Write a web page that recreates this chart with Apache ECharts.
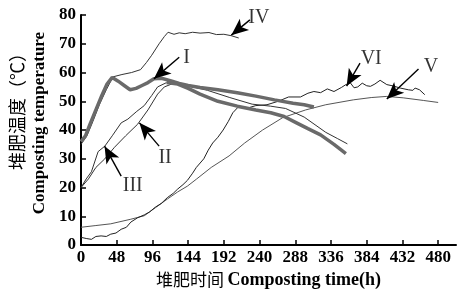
<!DOCTYPE html>
<html>
<head>
<meta charset="utf-8">
<script src="https://cdn.jsdelivr.net/npm/echarts@6/dist/echarts.min.js"></script>
<style>
    html, body {margin: 0; padding: 0; background: #fff;}
    #main {width: 462px; height: 294px;}
</style>
</head>
<body>
<div id="main"></div>
<script>
    // 时间刻度 / 温度刻度
    var xTicks = [0, 48, 96, 144, 192, 240, 288, 336, 384, 432, 480];
    var yTicks = [0, 10, 20, 30, 40, 50, 60, 70, 80];

    // 各处理温度曲线 [时间h, 温度℃]
    var curveI = [[0, 36], [6, 38], [12, 42], [20, 47], [28, 52], [35, 56], [42, 58.3], [50, 57], [58, 55.5], [66, 54], [74, 54.5],
        [82, 55.5], [90, 56.5], [98, 57.8], [108, 58], [120, 57.2], [132, 56.2], [144, 55.5], [160, 54.8], [184, 54], [210, 53],
        [235, 51.8], [260, 50.5], [285, 49.3], [300, 48.8], [313, 48]];
    var curveIIa = [[0, 20], [10, 23], [20, 27], [32, 30], [45, 34], [60, 38], [76, 42], [90, 47], [103, 52.5], [112, 55], [122, 56],
        [132, 56], [150, 55], [170, 53.8], [200, 51.3], [230, 49], [255, 48.3], [275, 47.5], [300, 44.5], [329, 39.2], [345, 37], [358, 35.2]];
    var curveIIIa = [[0, 20], [7, 23], [14, 25.5], [23, 32.5], [32, 34.4], [42, 38], [54, 42.5], [63, 43.8], [75, 46.5], [85, 48.5],
        [95, 52], [103, 55], [115, 56.5]];
    var curveIIIb = [[115, 56.5], [130, 56], [144, 54.5], [160, 52.5], [184, 50], [210, 48.3], [235, 47], [255, 46], [273, 44.7],
        [289, 42.6], [305, 40.5], [322, 38.3], [340, 35], [350, 33], [356, 31.8]];
    var curveIV = [[0, 35], [8, 38], [16, 43], [25, 49], [34, 54], [43, 58.5], [55, 59.3], [68, 60], [80, 61], [88, 63.5], [95, 66],
        [105, 70], [112, 72.5], [117, 74], [125, 73.3], [132, 73.8], [140, 73.5], [150, 74], [160, 73.7], [172, 73.9], [182, 73.2],
        [192, 73.3], [202, 72.8], [212, 72]];
    var curveV = [[0, 6.2], [20, 6.8], [40, 7.4], [67, 9], [85, 10.2], [100, 13], [116, 16], [130, 18.5], [143, 20.5], [155, 22.9],
        [175, 27], [199, 31], [220, 35.5], [244, 40], [271, 44.3], [302, 47], [329, 48.8], [366, 50.5], [390, 51.3], [411, 51.7],
        [433, 51.2], [460, 50.3], [480, 49.6]];
    var curveVI = [[0, 2.7], [7, 2.3], [14, 2], [20, 3], [27, 3.2], [34, 3], [40, 3.8], [47, 4.2], [54, 5.5], [61, 6.2], [67, 8],
        [76, 9.5], [85, 10.5], [92, 11.5], [100, 13.2], [108, 14.5], [116, 16.5], [124, 18], [130, 19.5], [137, 21], [143, 22.5],
        [150, 25], [155, 27], [165, 30], [171, 33], [177, 35.5], [184, 37.5], [191, 40], [198, 43], [204, 46], [212, 48.2],
        [222, 47.5], [235, 48.5], [250, 48.8], [265, 50], [279, 51.5], [295, 51.5], [305, 52.8], [313, 53.4], [322, 53], [331, 54.3],
        [340, 53.4], [350, 54.8], [356, 55.8], [362, 56.4], [367, 54.7], [372, 55], [378, 56.3], [384, 55.4], [389, 55.2], [395, 56],
        [402, 57.3], [411, 55.8], [420, 55.3], [429, 54.6], [440, 54], [446, 53.8], [449, 54.6], [455, 54], [462, 52.3]];

    // 标注: 文字位置 与 箭头 [尾, 尖]
    var annoNames = ['I', 'II', 'III', 'IV', 'V', 'VI'];
    var annoText = [[142, 65], [113, 30.5], [69.5, 20.8], [239, 79.2], [470.5, 62], [390, 64.8]];
    var annoArrow = [
        [[132, 65.3], [98, 57.8]],
        [[105, 34.4], [78.5, 42.5]],
        [[54, 24], [31.7, 34.4]],
        [[227, 78.3], [202, 73]],
        [[453.6, 61.2], [411, 50.8]],
        [[375, 63.3], [357, 55.3]]
    ];

    var serif = "'Liberation Serif', 'Times New Roman', serif";
    var cjk = "'Noto Sans CJK SC', sans-serif";

    var thin = function (d, color) {
        return {
            type: 'line', data: d, showSymbol: false, symbol: 'none', silent: true,
            lineStyle: {color: color || '#333', width: 1}
        };
    };
    var thick = function (d) {
        return {
            type: 'line', data: d, showSymbol: false, symbol: 'none', silent: true,
            lineStyle: {color: '#6a6a6a', width: 3.5}
        };
    };

    var arrows = [], labels = [];
    for (var i = 0; i < annoNames.length; i++) {
        arrows.push([{coord: annoArrow[i][0], symbol: 'none'}, {coord: annoArrow[i][1], symbol: 'arrow', symbolSize: [11, 17]}]);
        labels.push([annoText[i][0], annoText[i][1], annoNames[i]]);
    }

    var chart = echarts.init(document.getElementById('main'), null, {renderer: 'canvas'});
    chart.setOption({
        animation: false,
        backgroundColor: '#fff',
        grid: {left: 79, right: 6, top: 15, bottom: 48},
        xAxis: {
            type: 'value', min: 0, max: 504, interval: 48,
            name: '{cn|堆肥时间} {en|Composting time(h)}',
            nameLocation: 'middle', nameGap: 24,
            nameTextStyle: {
                rich: {
                    cn: {fontFamily: cjk, fontSize: 17, color: '#000'},
                    en: {fontFamily: serif, fontSize: 18, fontWeight: 'bold', color: '#000'}
                }
            },
            axisLine: {lineStyle: {color: '#000', width: 2}},
            axisTick: {inside: true, length: 5, lineStyle: {color: '#000', width: 1.5}, customValues: xTicks},
            axisLabel: {customValues: xTicks, margin: 4, fontFamily: serif, fontSize: 17, fontWeight: 'bold', color: '#000'},
            splitLine: {show: false}
        },
        yAxis: [{
            type: 'value', min: 0, max: 80, interval: 10,
            name: 'Composting temperature',
            nameLocation: 'middle', nameGap: 30,
            nameTextStyle: {fontFamily: serif, fontSize: 17, fontWeight: 'bold', color: '#000', padding: [0, 0, 0, 14]},
            axisLine: {show: true, lineStyle: {color: '#000', width: 2}},
            axisTick: {show: true, inside: true, length: 5, lineStyle: {color: '#000', width: 1.5}},
            axisLabel: {margin: 5, fontFamily: serif, fontSize: 17, fontWeight: 'bold', color: '#000',
                formatter: function (v) { return yTicks.indexOf(v) >= 0 ? v : ''; }},
            splitLine: {show: false}
        }, {
            type: 'value', min: 0, max: 80, position: 'left',
            name: '堆肥温度（℃）',
            nameLocation: 'middle', nameGap: 55,
            nameTextStyle: {fontFamily: cjk, fontSize: 18, color: '#000', padding: [0, 0, 0, 46]},
            axisLine: {show: false}, axisTick: {show: false}, axisLabel: {show: false}, splitLine: {show: false}
        }],
        series: [
            thin(curveV, '#555'),
            thin(curveVI, '#222'),
            thin(curveIV, '#333'),
            thin(curveIIa, '#333'),
            thin(curveIIIa, '#333'),
            thick(curveIIIb),
            thick(curveI),
            {
                type: 'line', data: [], silent: true,
                markLine: {
                    silent: true, animation: false,
                    symbol: ['none', 'arrow'], symbolSize: 12,
                    label: {show: false},
                    lineStyle: {color: '#000', width: 1.4, type: 'solid'},
                    emphasis: {disabled: true},
                    data: arrows
                }
            },
            {
                type: 'scatter', data: labels, symbolSize: 0, silent: true,
                label: {
                    show: true, position: 'inside', color: '#000',
                    fontFamily: serif, fontSize: 20,
                    formatter: function (p) { return p.value[2]; }
                }
            }
        ]
    });
</script>
</body>
</html>
